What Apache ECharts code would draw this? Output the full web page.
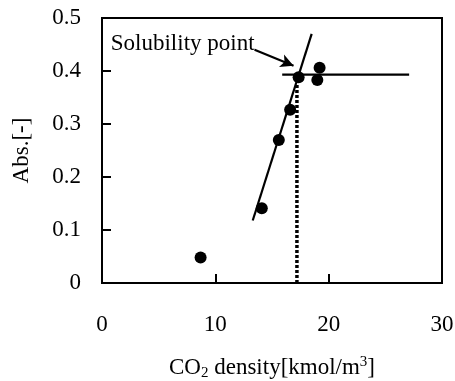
<!DOCTYPE html>
<html>
<head>
<meta charset="utf-8">
<script src="https://cdn.jsdelivr.net/npm/echarts@6/dist/echarts.min.js"></script>
<style>
  html, body { margin: 0; padding: 0; background: #fff; }
  #chart { width: 455px; height: 381px; }
</style>
</head>
<body>
<div id="chart"></div>
<script>
  // measured points
  const densityX = [8.7, 14.1, 15.6, 16.6, 17.35, 19.0, 19.2];
  const absY = [0.048, 0.141, 0.270, 0.327, 0.388, 0.383, 0.406];
  // rising fit line
  const fitX = [13.3, 18.5];
  const fitY = [0.118, 0.47];
  // plateau line
  const plateauX = [15.9, 27.1];
  const plateauY = [0.393, 0.393];
  // dotted line at solubility point
  const solX = [17.2, 17.2];
  const solY = [0, 0.375];
  // annotation arrow
  const arrowFrom = [13.46, 0.44];
  const arrowTo = [16.9, 0.41];
  const noteText = 'Solubility point';

  const xMin = 0, xMax = 30, xStep = 10;
  const yMin = 0, yMax = 0.5, yStep = 0.1;

  const font = 'Liberation Serif';
  const pairs = (xs, ys) => xs.map((x, i) => [x, ys[i]]);

  let option = {
    animation: false,
    grid: {
      left: 102,
      right: 13,
      top: 18,
      bottom: 98,
      outerBoundsMode: 'none',
      show: true,
      borderColor: '#000',
      borderWidth: 2,
    },
    xAxis: {
      type: 'value',
      min: xMin,
      max: xMax,
      interval: xStep,
      name: '{n|CO}{s|2}{n| density[kmol/m}{p|3}{n|]}',
      nameLocation: 'middle',
      nameGap: 72,
      nameTextStyle: {
        rich: {
          n: { fontSize: 23, fontFamily: font, color: '#000', lineHeight: 26 },
          s: { fontSize: 15, fontFamily: font, color: '#000', lineHeight: 15, verticalAlign: 'bottom' },
          p: { fontSize: 15, fontFamily: font, color: '#000', lineHeight: 15, verticalAlign: 'top' },
        },
      },
      axisLine: { show: true, lineStyle: { color: '#000', width: 2 } },
      axisTick: { show: true, inside: true, length: 9, lineStyle: { color: '#000', width: 2 } },
      axisLabel: { fontSize: 23, fontFamily: font, color: '#000', margin: 30 },
      splitLine: { show: false },
    },
    yAxis: {
      type: 'value',
      min: yMin,
      max: yMax,
      interval: yStep,
      name: 'Abs.[-]',
      nameLocation: 'middle',
      nameGap: 69,
      nameRotate: 90,
      nameTextStyle: { fontSize: 23, fontFamily: font, color: '#000' },
      axisLine: { show: true, lineStyle: { color: '#000', width: 2 } },
      axisTick: { show: true, inside: true, length: 9, lineStyle: { color: '#000', width: 2 } },
      axisLabel: { fontSize: 23, fontFamily: font, color: '#000', margin: 21 },
      splitLine: { show: false },
    },
    series: [
      {
        name: 'fit',
        type: 'line',
        data: pairs(fitX, fitY),
        symbol: 'none',
        lineStyle: { color: '#000', width: 2.2 },
        z: 2,
      },
      {
        name: 'plateau',
        type: 'line',
        data: pairs(plateauX, plateauY),
        symbol: 'none',
        lineStyle: { color: '#000', width: 2.2 },
        z: 2,
      },
      {
        name: 'solubility',
        type: 'line',
        data: pairs(solX, solY),
        symbol: 'none',
        lineStyle: { color: '#000', width: 3.5, type: [3, 2] },
        z: 2,
      },
      {
        name: 'note',
        type: 'scatter',
        data: [arrowFrom],
        symbolSize: 0,
        itemStyle: { opacity: 1 },
        label: {
          show: true,
          position: 'left',
          distance: 0,
          offset: [0, -6],
          formatter: noteText,
          fontSize: 23,
          fontFamily: font,
          color: '#000',
        },
        markLine: {
          silent: true,
          symbol: ['none', 'arrow'],
          symbolSize: [10, 13],
          label: { show: false },
          lineStyle: { color: '#000', width: 2.2, type: 'solid' },
          data: [[{ coord: arrowFrom }, { coord: arrowTo }]],
        },
        z: 3,
      },
      {
        name: 'Abs',
        type: 'scatter',
        data: pairs(densityX, absY),
        symbol: 'circle',
        symbolSize: 12,
        itemStyle: { color: '#000', opacity: 1 },
        z: 5,
      },
    ],
  };

  let chartDom = document.getElementById('chart');
  if (chartDom) {
    let myChart = echarts.init(chartDom);
    option && myChart.setOption(option);
  }
</script>
</body>
</html>
